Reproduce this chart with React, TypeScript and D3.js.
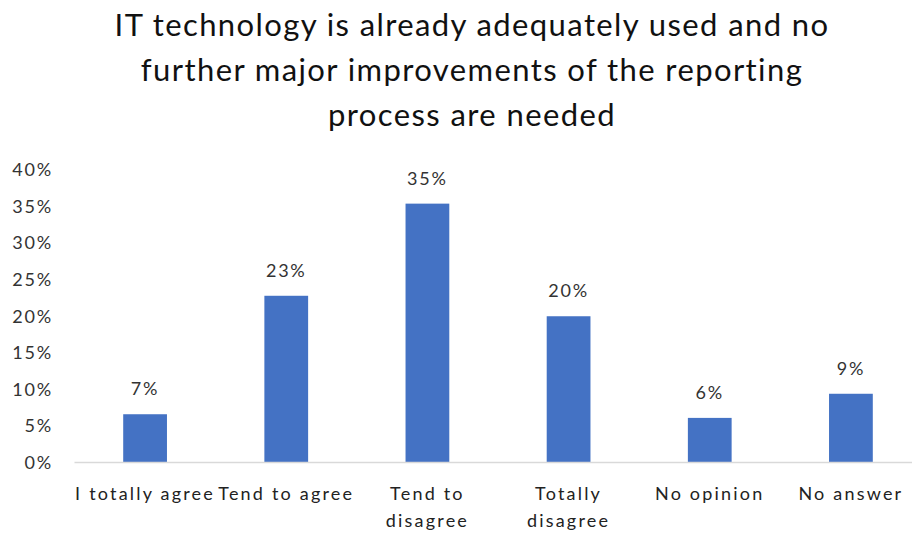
import * as d3 from 'd3';

// Survey answers and shares (%)
const categories = ['I totally agree', 'Tend to agree', 'Tend to disagree', 'Totally disagree', 'No opinion', 'No answer'];
const categoryLines = [['I totally agree'], ['Tend to agree'], ['Tend to', 'disagree'], ['Totally', 'disagree'], ['No opinion'], ['No answer']];
const values = [6.6, 22.8, 35.4, 20.0, 6.1, 9.4];
const valueLabels = ['7%', '23%', '35%', '20%', '6%', '9%'];
const yTicks = [0, 5, 10, 15, 20, 25, 30, 35, 40];
const titleLines = [
  'IT technology is already adequately used and no',
  'further major improvements of the reporting',
  'process are needed',
];

const W = 912;
const H = 533;
const FONT = 'Lato, "Open Sans", sans-serif';

const App = () => {
  const x = d3.scaleBand<string>()
    .domain(categories)
    .range([74.5, 921.5])
    .paddingInner(0.69)
    .paddingOuter(0.345);

  const y = d3.scaleLinear().domain([0, 40]).range([462.5, 170]);
  const cx = (c: string) => (x(c) ?? 0) + x.bandwidth() / 2;

  return (
    <svg width={W} height={H} style={{ display: 'block', position: 'absolute', left: 0, top: 0 }}>
      <rect width={W} height={H} fill="#fff" />

      {/* title */}
      {titleLines.map((t, i) => (
        <text key={i} x={472} y={36 + i * 45} textAnchor="middle" fontFamily={FONT} fontSize={31}
          letterSpacing={1.4} fill="#111">
          {t}
        </text>
      ))}

      {/* y axis labels */}
      {yTicks.map(t => (
        <text key={t} x={53} y={y(t)} dy="0.35em" textAnchor="end" fontFamily={FONT} fontSize={18}
          letterSpacing={1.8} fill="#333">
          {t}%
        </text>
      ))}

      {/* bars */}
      {categories.map((c, i) => (
        <rect key={c} x={x(c)} y={y(values[i])} width={x.bandwidth()} height={y(0) - y(values[i])} fill="#4472C4" />
      ))}

      {/* baseline */}
      <line x1={74.5} x2={921.5} y1={y(0)} y2={y(0)} stroke="#d9d9d9" strokeWidth={1.5} />

      {/* value labels */}
      {categories.map((c, i) => (
        <text key={c} x={cx(c)} y={y(values[i]) - 19} textAnchor="middle"
          fontFamily={FONT} fontSize={18} letterSpacing={1.8} fill="#333">
          {valueLabels[i]}
        </text>
      ))}

      {/* category labels */}
      {categories.map((c, i) => (
        <text key={c} textAnchor="middle" fontFamily={FONT} fontSize={18} letterSpacing={2.2} fill="#222">
          {categoryLines[i].map((l, j) => (
            <tspan key={j} x={cx(c)} y={500 + j * 27}>{l}</tspan>
          ))}
        </text>
      ))}
    </svg>
  );
};

export default App;
